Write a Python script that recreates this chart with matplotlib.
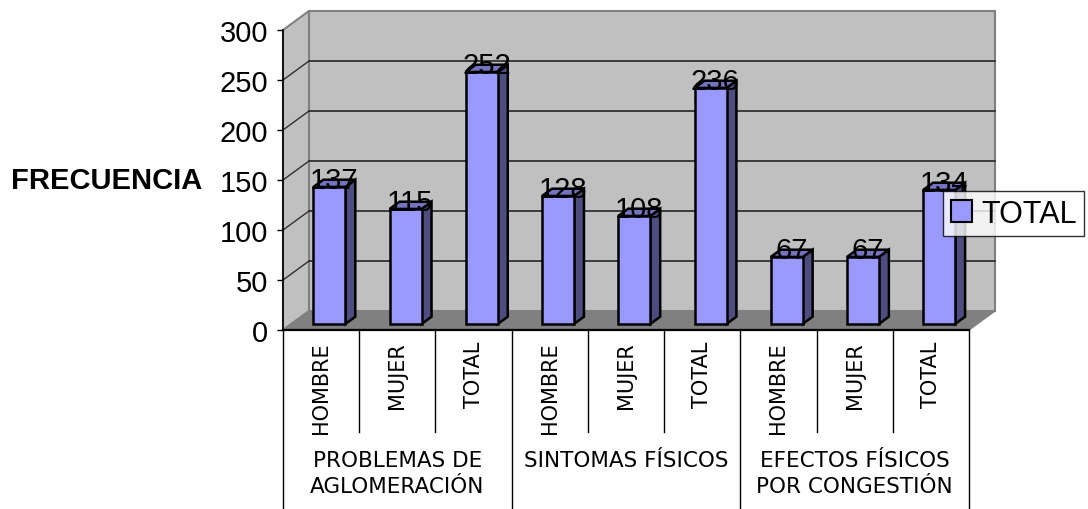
import matplotlib.pyplot as plt
from matplotlib.patches import Polygon, Patch

# frecuencias por grupo y sexo
grupos = ["PROBLEMAS DE\nAGLOMERACIÓN", "SINTOMAS FÍSICOS", "EFECTOS FÍSICOS\nPOR CONGESTIÓN"]
sexos = ["HOMBRE", "MUJER", "TOTAL"]
valores = [137, 115, 252, 128, 108, 236, 67, 67, 134]
serie = "TOTAL"
yticks = [0, 50, 100, 150, 200, 250, 300]

fig = plt.figure(figsize=(10.88, 5.10), dpi=100)
W, H = 1088, 510
# front plane of the 3d box, in pixels
x_left, x_right, y_zero, y_top = 283, 969, 331, 31
ax = fig.add_axes([x_left / W, (H - y_zero) / H, (x_right - x_left) / W, (y_zero - y_top) / H])
n = len(valores)
ax.set_xlim(0, n)
ax.set_ylim(0, 300)

px_x = (x_right - x_left) / n   # pixels per category
DX, DY = 26, 19                 # depth of the box in pixels


def depth(d):
    return d * DX / px_x, d * DY


def poly(pts, fc, ec, lw, z):
    ax.add_patch(Polygon(pts, closed=True, facecolor=fc, edgecolor=ec,
                         linewidth=lw, zorder=z, clip_on=False))


gris = "#c0c0c0"
gris_osc = "#808080"
sx, sy = depth(1)

# walls and floor
poly([(sx, sy), (n + sx, sy), (n + sx, 300 + sy), (sx, 300 + sy)], gris, gris_osc, 1.5, 1)
poly([(0, 0), (sx, sy), (sx, 300 + sy), (0, 300)], gris, gris_osc, 1.5, 1)
poly([(0, 0), (n, 0), (n + sx, sy), (sx, sy)], gris_osc, gris_osc, 1, 1)

for v in yticks[1:-1]:
    ax.plot([sx, n + sx], [v + sy, v + sy], color="#303030", lw=1.3, zorder=2, clip_on=False)
    ax.plot([0, sx], [v, v + sy], color="#303030", lw=1, zorder=2, clip_on=False)

# bars
frente = "#9999ff"
techo = "#7373c0"
lado = "#4d4d80"
w = 32 / px_x
d0, d1 = 0.32, 0.70
ax0, ay0 = depth(d0)
ax1, ay1 = depth(d1)
for i, v in enumerate(valores):
    x0 = i + 0.5 - w / 2
    x1 = x0 + w
    poly([(x1 + ax0, ay0), (x1 + ax1, ay1), (x1 + ax1, v + ay1), (x1 + ax0, v + ay0)], lado, "black", 1.8, 3)
    poly([(x0 + ax0, v + ay0), (x1 + ax0, v + ay0), (x1 + ax1, v + ay1), (x0 + ax1, v + ay1)], techo, "black", 1.8, 3)
    poly([(x0 + ax0, ay0), (x1 + ax0, ay0), (x1 + ax0, v + ay0), (x0 + ax0, v + ay0)], frente, "black", 1.8, 4)
    mx, my = depth(0.5)
    ax.text(i + 0.5 + mx, v + my + 3, str(v), ha="center", va="center",
            fontsize=21, family="Liberation Sans", zorder=6)

# axes: only the value axis and the floor edge
for s in ["top", "right"]:
    ax.spines[s].set_visible(False)
ax.spines["left"].set_zorder(5)
ax.spines["bottom"].set_zorder(5)
ax.spines["left"].set_linewidth(1.2)
ax.spines["bottom"].set_linewidth(1.6)
ax.set_xticks([])
ax.set_yticks(yticks)
ax.tick_params(axis="y", direction="out", length=4.5, width=1, pad=6)
for t in ax.get_yticklabels():
    t.set_fontsize(21)
    t.set_family("Liberation Sans")
ax.patch.set_visible(False)

# category table under the floor
bottom = -(H - y_zero)
for k in range(n + 1):
    y_end = bottom if k % 3 == 0 else -102
    ax.plot([k, k], [0, y_end], color="black", lw=1, clip_on=False, zorder=5)
for i in range(n):
    ax.text(i + 0.5, -11, sexos[i % 3], rotation=90, ha="center", va="top",
            fontsize=15, family="DejaVu Sans")
for g, nombre in enumerate(grupos):
    ax.text(g * 3 + 1.5, -120, nombre, ha="center", va="top", fontsize=15.5,
            family="DejaVu Sans", linespacing=1.4, multialignment="center")

fig.text(202 / W, 1 - 181 / H, "FRECUENCIA", ha="right", va="center",
         fontsize=21, fontweight="bold", family="Liberation Sans")

leg = fig.legend(handles=[Patch(facecolor=frente, edgecolor="black", linewidth=1.5, label=serie)],
                 loc="upper left", bbox_to_anchor=(943 / W, 1 - 192 / H),
                 bbox_transform=fig.transFigure, frameon=True, fancybox=False,
                 prop={"family": "Liberation Sans", "size": 22},
                 handlelength=0.7, handleheight=0.7, handletextpad=0.3,
                 borderpad=0.25, borderaxespad=0)
leg.get_frame().set_edgecolor("black")
leg.get_frame().set_linewidth(1)
leg.set_zorder(10)

fig.savefig("out.png", dpi=100)
